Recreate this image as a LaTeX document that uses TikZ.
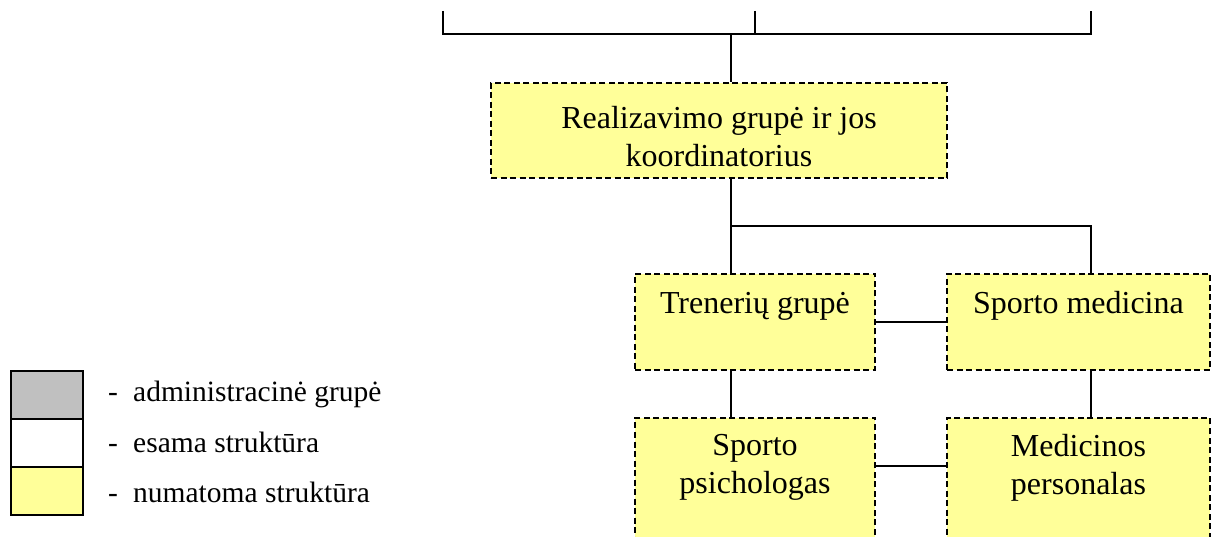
\documentclass[tikz,border=0pt]{standalone}
\usepackage{fontspec}
\setmainfont{Liberation Serif}
\usetikzlibrary{calc}
\definecolor{boxyellow}{HTML}{FFFF99}
\definecolor{admgray}{HTML}{C0C0C0}
\begin{document}
\begin{tikzpicture}[x=1pt,y=-1pt,
  conn/.style={line width=1.6pt},
  box/.style={draw, line width=1.8pt, dash pattern=on 6pt off 3.5pt, fill=boxyellow, inner sep=0pt},
  txt/.style={font=\fontsize{32}{38}\selectfont, inner sep=0pt, align=center},
  legbox/.style={draw, line width=1.5pt, minimum width=72pt, minimum height=48pt, inner sep=0pt},
  legtxt/.style={font=\fontsize{29.5}{34}\selectfont, inner sep=0pt, anchor=base west}]
\clip (0,0) rectangle (1211,537);
% top bracket
\coordinate (tl) at (443,11);
\coordinate (tm) at (755,11);
\coordinate (tr) at (1091,11);
\coordinate (bj) at (731,34);
\coordinate (j1) at (731,226);
\coordinate (j2) at (1091,226);
\coordinate (lc) at (0,466);
% boxes
\node[box, minimum width=456pt, minimum height=95pt] (realiz) at (719,130.5) {};
\node[box, minimum width=240pt, minimum height=96pt] (trener) at (755,322) {};
\node[box, minimum width=263pt, minimum height=96pt] (sportmed) at (1078.5,322) {};
\node[box, minimum width=240pt, minimum height=152pt] (psy) at (755,494) {};
\node[box, minimum width=263pt, minimum height=152pt] (medpers) at (1078.5,494) {};
% connectors
\draw[conn] (tl) -- (tl |- bj) -- (tr |- bj) -- (tr);
\draw[conn] (tm) -- (tm |- bj);
\draw[conn] (bj) -- (bj |- realiz.north);
\draw[conn] (realiz.south -| j1) -- (j1) -- (j2) -- (j2 |- sportmed.north);
\draw[conn] (j1) -- (j1 |- trener.north);
\draw[conn] (trener.south -| j1) -- (j1 |- psy.north);
\draw[conn] (sportmed.south -| j2) -- (j2 |- medpers.north);
\draw[conn] (trener.east) -- (sportmed.west);
\draw[conn] (psy.east |- lc) -- (medpers.west |- lc);
% texts
\node[txt, anchor=north] (realiztxt) at ($(realiz.north)+(0,24)$) {Realizavimo grupė ir jos\\koordinatorius};
\node[txt, anchor=base] (trenertxt) at ($(trener.north)+(0,40)$) {Trenerių grupė};
\node[txt, anchor=base] (sportmedtxt) at ($(sportmed.north)+(0,40)$) {Sporto medicina};
\node[txt, anchor=north] (psytxt) at ($(psy.north)+(0,17)$) {Sporto\\psichologas};
\node[txt, anchor=north] (medperstxt) at ($(medpers.north)+(0,17)$) {Medicinos\\personalas};
% legend
\node[legbox, fill=admgray] (lg1) at (47,395) {};
\node[legbox, fill=white] (lg2) at (47,443) {};
\node[legbox, fill=boxyellow] (lg3) at (47,491) {};
\node[legtxt] (lt1) at (108,402) {\makebox[25pt][l]{-}administracinė grupė};
\node[legtxt] (lt2) at (108,452) {\makebox[25pt][l]{-}esama struktūra};
\node[legtxt] (lt3) at (108,502) {\makebox[25pt][l]{-}numatoma struktūra};
\end{tikzpicture}
\end{document}
